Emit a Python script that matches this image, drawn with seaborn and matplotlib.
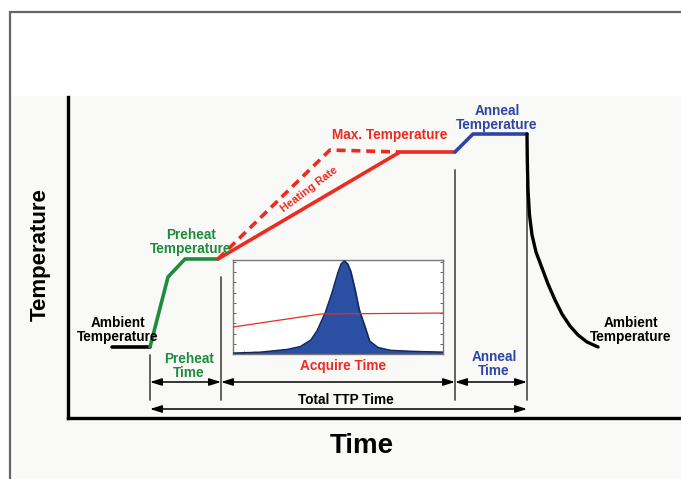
import numpy as np
import pandas as pd
import matplotlib
matplotlib.use("Agg")
import matplotlib.pyplot as plt
import seaborn as sns
from matplotlib.lines import Line2D
from matplotlib.patches import Rectangle

# ---- schematic data (time / temperature in arbitrary units) ----
ambient_t = [44, 82]
ambient_T = [71, 71]
preheat_t = [82, 100, 117, 150]
preheat_T = [71, 141, 159, 159]
heat_t = [150, 332, 387]
heat_T = [159, 266, 266]
fast_t = [150, 262, 332]
fast_T = [159, 268, 266]
anneal_t = [387, 405, 459]
anneal_T = [266, 284, 284]
cool_t = [459, 459.3, 460, 461.5, 464, 468, 474, 480, 487, 494, 502, 510, 519, 530]
cool_T = [284, 258, 228, 203, 183, 166, 150, 134, 118, 104, 92, 83, 76, 71]

# stage boundaries
marks_t = [82, 153, 387, 459]
marks_top = [63, 141, 248, 284]

# inset: acquired signal
peak_x = [0, 13, 26, 32, 37, 40, 44, 47, 50, 51.5, 53, 54.5, 56, 58, 60, 63, 65, 69, 75, 84, 100]
peak_y = [1, 2, 5, 8, 15, 25, 45, 65, 88, 97, 100, 97, 89, 70, 48, 28, 14, 7, 4, 3, 2]
ramp_x = [0, 42, 100]
ramp_y = [29, 43, 44]

GREEN = "#1e8c3c"
RED = "#ee2b1f"
BLUE = "#2f45a6"

sns.set_style("white")
plt.rcParams['font.family'] = ['Liberation Sans', 'DejaVu Sans']

W, H = 681, 479
fig = plt.figure(figsize=(W / 100, H / 100), dpi=100)

# background frame
fig.patches.append(Rectangle((10 / W, 0), 1, (479 - 96) / H, transform=fig.transFigure,
                             color="#f9f9f8", zorder=-10))
fig.add_artist(Line2D([10 / W, 10 / W], [0, 1 - 12 / H], color="#666666", lw=1.6))
fig.add_artist(Line2D([10 / W, 1], [1 - 12 / H, 1 - 12 / H], color="#666666", lw=1.6))

ax = fig.add_axes([68 / W, (H - 418) / H, (W - 68) / W, (418 - 97) / H])
ax.patch.set_alpha(0)
ax.set_xlim(0, 613)
ax.set_ylim(0, 321)
for s in ["top", "right"]:
    ax.spines[s].set_visible(False)
for s in ["left", "bottom"]:
    ax.spines[s].set_linewidth(2.4)
    ax.spines[s].set_color("black")
ax.set_xticks([])
ax.set_yticks([])

def seg(t, T, color, **kw):
    sns.lineplot(x=t, y=T, ax=ax, color=color, sort=False, estimator=None, **kw)

seg(ambient_t, ambient_T, "black", lw=2.6)
seg(preheat_t, preheat_T, GREEN, lw=2.6)
seg(fast_t, fast_T, RED, lw=2.6, linestyle=(0, (2.5, 1.6)))
seg(heat_t, heat_T, RED, lw=2.6)
seg(anneal_t, anneal_T, BLUE, lw=2.6)
seg(cool_t, cool_T, "black", lw=2.4)

for t, top in zip(marks_t, marks_top):
    ax.plot([t, t], [18, top], color="#555555", lw=1.3, zorder=1)

arrow = dict(arrowstyle="<|-|>,head_length=0.7,head_width=0.22", color="black",
             lw=1.1, shrinkA=0, shrinkB=0)
for a, b in zip(marks_t[:-1], marks_t[1:]):
    ax.annotate("", xy=(b, 36), xytext=(a, 36), arrowprops=arrow)
ax.annotate("", xy=(marks_t[-1], 9), xytext=(marks_t[0], 9), arrowprops=arrow)

fs = 9.8
txt = dict(ha="center", va="center", fontweight="bold", fontsize=fs, linespacing=1.0)
ax.text(50, 88, "Ambient\nTemperature", color="black", **txt)
ax.text(123, 176, "Preheat\nTemperature", color=GREEN, **txt)
ax.text(241, 229, "Heating Rate", color=RED, rotation=37, ha="center", va="center",
        fontweight="bold", fontsize=8)
ax.text(322, 283, "Max. Temperature", color=RED, **txt)
ax.text(429, 300, "Anneal\nTemperature", color=BLUE, **txt)
ax.text(563, 88, "Ambient\nTemperature", color="black", **txt)
ax.text(275, 52, "Acquire Time", color=RED, **txt)
ax.text(121, 52, "Preheat\nTime", color=GREEN, **txt)
ax.text(426, 54, "Anneal\nTime", color=BLUE, **txt)
ax.text(278, 18, "Total TTP Time", color="black", **txt)

# axis titles
fig.text(40 / W, 1 - 255 / H, "Temperature", rotation=90, ha="center", va="center",
         fontsize=16, fontweight="bold", color="black")
fig.text(362 / W, 1 - 446 / H, "Time", ha="center", va="center",
         fontsize=20, fontweight="bold", color="black")

# inset glow curve
ins = fig.add_axes([233 / W, (H - 354) / H, (443 - 233) / W, (354 - 260) / H])
ins.set_xlim(0, 100)
ins.set_ylim(0, 101)
ins.fill_between(peak_x, peak_y, color="#2a4fa3", zorder=2)
sns.lineplot(x=peak_x, y=peak_y, ax=ins, color="#14265e", lw=1.0, sort=False,
             estimator=None, zorder=3)
sns.lineplot(x=ramp_x, y=ramp_y, ax=ins, color=RED, lw=0.9, sort=False,
             estimator=None, zorder=4)
for s in ins.spines.values():
    s.set_color("#777777")
    s.set_linewidth(1.0)
ins.set_xticks(np.arange(0, 101, 5))
ins.set_yticks(np.arange(0, 101, 11))
ins.tick_params(direction="in", length=2, width=0.6, color="#444444",
                left=True, right=True, bottom=True, labelleft=False, labelbottom=False)
ins.set_xlabel("")
ins.set_ylabel("")

fig.savefig("out.png", dpi=100)
